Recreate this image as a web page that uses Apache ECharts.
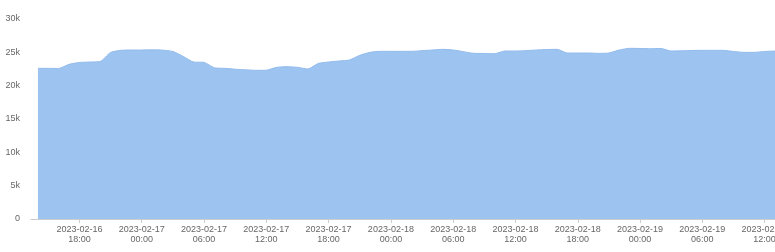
<!DOCTYPE html>
<html>
<head>
<meta charset="utf-8">
<script src="https://cdn.jsdelivr.net/npm/echarts@6/dist/echarts.min.js"></script>
<style>
  html, body { margin: 0; padding: 0; background: #fff; }
  #main { width: 775px; height: 252px; }
</style>
</head>
<body>
<div id="main"></div>
<script>
// hourly samples, first one at 2023-02-16 14:00
var startTime = '2023-02-16T14:00:00';
var values = [
  22600, 22600, 22580, 23200, 23480, 23550, 23630, 24980, 25300, 25350,
  25350, 25370, 25330, 25130, 24380, 23550, 23490, 22680, 22600, 22470,
  22380, 22300, 22320, 22750, 22850, 22750, 22500, 23330, 23550, 23700,
  23850, 24550, 25000, 25150, 25150, 25150, 25150, 25250, 25350, 25450,
  25350, 25100, 24850, 24830, 24800, 25200, 25200, 25250, 25350, 25420,
  25450, 24900, 24900, 24900, 24850, 24900, 25350, 25600, 25580, 25550,
  25580, 25200, 25230, 25280, 25300, 25300, 25300, 25130, 25000, 25000,
  25130, 25200
];
var xTicks = [
  '2023-02-16T18:00:00', '2023-02-17T00:00:00', '2023-02-17T06:00:00',
  '2023-02-17T12:00:00', '2023-02-17T18:00:00', '2023-02-18T00:00:00',
  '2023-02-18T06:00:00', '2023-02-18T12:00:00', '2023-02-18T18:00:00',
  '2023-02-19T00:00:00', '2023-02-19T06:00:00', '2023-02-19T12:00:00'
];
var yTicks = [0, 5000, 10000, 15000, 20000, 25000, 30000];

var HOUR = 3600 * 1000;
var t0 = new Date(startTime).getTime();
var seriesData = values.map(function (v, i) {
  return [t0 + i * HOUR, v];
});
var tickValues = xTicks.map(function (s) { return new Date(s).getTime(); });

function pad(n) { return n < 10 ? '0' + n : '' + n; }
function fmtTime(v) {
  var d = new Date(v);
  return d.getFullYear() + '-' + pad(d.getMonth() + 1) + '-' + pad(d.getDate()) +
    '\n' + pad(d.getHours()) + ':' + pad(d.getMinutes());
}

var chart = echarts.init(document.getElementById('main'));
chart.setOption({
  animation: false,
  grid: {
    left: 31, right: 0, top: 19, bottom: 33,
    containLabel: false,
    outerBoundsMode: 'none'
  },
  xAxis: {
    type: 'value',
    min: t0 - 40 * 60 * 1000,
    max: t0 + 71 * HOUR,
    axisLine: { lineStyle: { color: '#ccc' } },
    axisTick: {
      show: true, length: 4, customValues: tickValues,
      lineStyle: { color: '#ccc' }
    },
    splitLine: { show: false },
    axisLabel: {
      color: '#666',
      fontSize: 9,
      fontFamily: 'Liberation Sans',
      lineHeight: 10,
      margin: 6,
      hideOverlap: false,
      customValues: tickValues,
      formatter: fmtTime
    }
  },
  yAxis: {
    type: 'value',
    min: yTicks[0],
    max: yTicks[yTicks.length - 1],
    interval: yTicks[1] - yTicks[0],
    axisLine: { show: false },
    axisTick: { show: false },
    splitLine: { show: false },
    axisLabel: {
      color: '#666',
      fontSize: 9,
      fontFamily: 'Liberation Sans',
      margin: 11,
      formatter: function (v) { return v === 0 ? '0' : (v / 1000) + 'k'; }
    }
  },
  series: [{
    type: 'line',
    data: seriesData,
    symbol: 'none',
    smooth: 0.2,
    lineStyle: { color: '#92bbec', width: 1 },
    areaStyle: { color: '#9dc4f0', opacity: 1 }
  }]
});
</script>
</body>
</html>
